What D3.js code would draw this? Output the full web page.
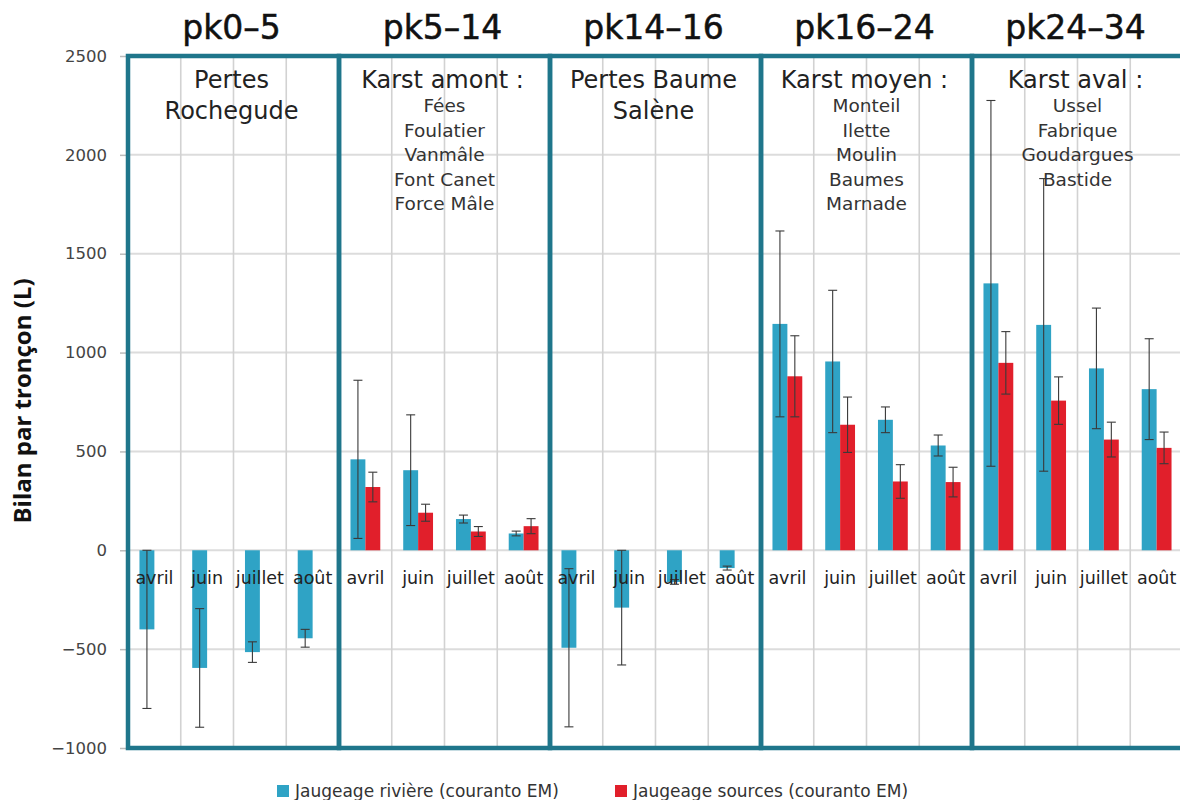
<!DOCTYPE html>
<html>
<head>
<meta charset="utf-8">
<script src="https://cdn.jsdelivr.net/npm/d3@7"></script>
<style>
  html, body { margin: 0; padding: 0; background: #fff; }
  svg { display: block; font-family: "DejaVu Sans", sans-serif; }
</style>
</head>
<body>
<svg id="chart" width="1180" height="800"></svg>
<script>
const panels = ["pk0-5", "pk5-14", "pk14-16", "pk16-24", "pk24-34"];
const months = ["avril", "juin", "juillet", "août"];
const series = ["Jaugeage rivière (couranto EM)", "Jaugeage sources (couranto EM)"];
const panelLabels = [["Pertes", "Rochegude"], ["Karst amont :"], ["Pertes Baume", "Salène"], ["Karst moyen :"], ["Karst aval :"]];
const panelSites = [[], ["Fées", "Foulatier", "Vanmâle", "Font Canet", "Force Mâle"], [], ["Monteil", "Ilette", "Moulin", "Baumes", "Marnade"], ["Ussel", "Fabrique", "Goudargues", "Bastide"]];
const riviere    = [[-400, -595, -515, -445], [460, 405, 158, 85], [-493, -290, -160, -90], [1145, 955, 660, 530], [1350, 1140, 920, 815]];
const riviereErr = [[400, 300, 52, 45], [400, 280, 20, 12], [400, 290, 12, 10], [470, 360, 65, 53], [925, 740, 305, 255]];
const sources    = [[null, null, null, null], [320, 190, 95, 122], [null, null, null, null], [880, 635, 348, 345], [948, 757, 560, 518]];
const sourcesErr = [[null, null, null, null], [75, 43, 25, 38], [null, null, null, null], [205, 140, 85, 75], [158, 120, 88, 80]];
const yTicks = [-1000, -500, 0, 500, 1000, 1500, 2000, 2500];

const colors = ["#2fa3c5", "#e11f2b"];
const svg = d3.select("#chart");

const x0 = d3.scaleBand().domain(panels).range([128, 128 + 5 * 211]);
const x1 = d3.scaleBand().domain(months).range([0, x0.bandwidth()]);
const x2 = d3.scaleBand().domain([0, 1]).range([0, x1.bandwidth()]).paddingInner(0).paddingOuter(0.77);
const y = d3.scaleLinear().domain([-1000, 2500]).range([748, 56]);

// horizontal gridlines
svg.append("g").selectAll("line").data(yTicks).join("line")
  .attr("x1", x0.range()[0]).attr("x2", x0.range()[1])
  .attr("y1", d => y(d)).attr("y2", d => y(d))
  .attr("stroke", "#dcdcdc").attr("stroke-width", 2);

// vertical gridlines within panels
panels.forEach(p => {
  months.slice(1).forEach(m => {
    svg.append("line")
      .attr("x1", x0(p) + x1(m)).attr("x2", x0(p) + x1(m))
      .attr("y1", y(2500)).attr("y2", y(-1000))
      .attr("stroke", "#d2d2d2").attr("stroke-width", 1.6);
  });
});

// y axis
const yAxis = d3.axisLeft(y).tickValues(yTicks).tickSize(8).tickPadding(13).tickFormat(d3.format("d"));
const ga = svg.append("g").attr("transform", "translate(128,0)").call(yAxis);
ga.select(".domain").remove();
ga.selectAll(".tick line").attr("stroke", "#bbb").attr("stroke-width", 1.5);
ga.selectAll(".tick text").attr("font-family", "DejaVu Sans, sans-serif").attr("font-size", 16.5).attr("fill", "#444");

svg.append("text")
  .attr("transform", "translate(31,401) rotate(-90)")
  .attr("text-anchor", "middle")
  .attr("font-family", "Open Sans, sans-serif")
  .attr("font-weight", 700)
  .attr("font-size", 24)
  .attr("fill", "#111")
  .text("Bilan par tronçon (L)");

// bars
const vals = [riviere, sources];
const errs = [riviereErr, sourcesErr];
const barData = [];
panels.forEach((p, pi) => {
  months.forEach((m, mi) => {
    [0, 1].forEach(s => {
      const v = vals[s][pi][mi];
      if (v === null) return;
      barData.push({ p, m, s, v, e: errs[s][pi][mi] });
    });
  });
});

const gb = svg.append("g");
gb.selectAll("rect").data(barData).join("rect")
  .attr("x", d => x0(d.p) + x1(d.m) + x2(d.s))
  .attr("width", x2.bandwidth())
  .attr("y", d => y(Math.max(0, d.v)))
  .attr("height", d => Math.abs(y(d.v) - y(0)))
  .attr("fill", d => colors[d.s]);

// error bars
const ge = svg.append("g").attr("stroke", "#3a3a3a").attr("stroke-width", 1.1);
barData.forEach(d => {
  const cx = x0(d.p) + x1(d.m) + x2(d.s) + x2.bandwidth() / 2;
  const top = y(d.v + d.e), bot = y(d.v - d.e);
  ge.append("line").attr("x1", cx).attr("x2", cx).attr("y1", top).attr("y2", bot);
  ge.append("line").attr("x1", cx - 4.5).attr("x2", cx + 4.5).attr("y1", top).attr("y2", top);
  ge.append("line").attr("x1", cx - 4.5).attr("x2", cx + 4.5).attr("y1", bot).attr("y2", bot);
});

// month labels
panels.forEach(p => {
  svg.append("g").selectAll("text").data(months).join("text")
    .attr("x", m => x0(p) + x1(m) + x1.bandwidth() / 2)
    .attr("y", y(0) + 34)
    .attr("text-anchor", "middle")
    .attr("font-size", 17.5)
    .attr("fill", "#222")
    .text(m => m);
});

// panel frames
svg.append("g").selectAll("rect").data(panels).join("rect")
  .attr("x", p => x0(p)).attr("width", x0.bandwidth())
  .attr("y", y(2500)).attr("height", y(-1000) - y(2500))
  .attr("fill", "none").attr("stroke", "#1f768b").attr("stroke-width", 4.5);

// panel titles and labels
panels.forEach((p, pi) => {
  const cx = x0(p) + x0.bandwidth() / 2;
  svg.append("text").attr("x", cx - 2).attr("y", 39).attr("text-anchor", "middle")
    .attr("font-size", 33).attr("fill", "#111").attr("stroke", "#111").attr("stroke-width", 0.5)
    .text(p.replace("-", "–"));
  panelLabels[pi].forEach((t, i) => {
    svg.append("text").attr("x", cx - 2).attr("y", 88 + i * 30.5).attr("text-anchor", "middle")
      .attr("font-size", 24).attr("fill", "#222").text(t);
  });
  panelSites[pi].forEach((t, i) => {
    svg.append("text").attr("x", cx).attr("y", 112 + i * 24.6).attr("text-anchor", "middle")
      .attr("font-size", 18.5).attr("fill", "#333").text(t);
  });
});

// legend
const legendX = [277, 615];
series.forEach((s, i) => {
  svg.append("rect").attr("x", legendX[i]).attr("y", 785).attr("width", 12).attr("height", 12).attr("fill", colors[i]);
  svg.append("text").attr("x", legendX[i] + 18).attr("y", 797).attr("font-size", 17)
    .attr("fill", "#333").text(s);
});
</script>
</body>
</html>
